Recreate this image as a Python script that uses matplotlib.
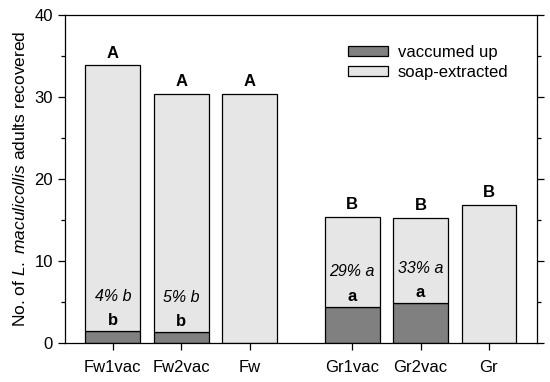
import matplotlib
matplotlib.use("Agg")
import matplotlib.pyplot as plt
from matplotlib.ticker import MultipleLocator

plt.rcParams["font.family"] = "Liberation Sans"
plt.rcParams["mathtext.fontset"] = "custom"
plt.rcParams["mathtext.rm"] = "Liberation Sans"
plt.rcParams["mathtext.it"] = "Liberation Sans:italic"

# data
groups = ["Fw1vac", "Fw2vac", "Fw", "Gr1vac", "Gr2vac", "Gr"]
positions = [0, 1, 2, 3.5, 4.5, 5.5]
vacuumed = [1.45, 1.35, 0, 4.4, 4.85, 0]
total = [33.8, 30.3, 30.3, 15.4, 15.2, 16.8]
soap = [t - v for t, v in zip(total, vacuumed)]
top_letters = ["A", "A", "A", "B", "B", "B"]
vac_letters = ["b", "b", "", "a", "a", ""]
pct_labels = ["4% b", "5% b", "", "29% a", "33% a", ""]

fig = plt.figure(figsize=(5.5, 3.82), dpi=100)
ax = fig.add_axes([0.118, 0.102, 0.858, 0.86])

ax.bar(positions, vacuumed, width=0.8, color="#808080", edgecolor="black",
       linewidth=0.9, label="vaccumed up")
ax.bar(positions, soap, bottom=vacuumed, width=0.8, color="#e6e6e6",
       edgecolor="black", linewidth=0.9, label="soap-extracted")

for x, t, lab in zip(positions, total, top_letters):
    ax.text(x, t + 1.5, lab, ha="center", va="center", fontsize=12, fontweight="bold")

for x, v, lab, pct in zip(positions, vacuumed, vac_letters, pct_labels):
    if lab:
        ax.text(x, v + 1.25, lab, ha="center", va="center", fontsize=12, fontweight="bold")
        ax.text(x, v + 4.25, pct, ha="center", va="center", fontsize=11.5, style="italic")

ax.set_xlim(-0.7, 6.2)
ax.set_ylim(0, 40)
ax.set_xticks(positions)
ax.set_xticklabels(groups, fontsize=12)
ax.yaxis.set_major_locator(MultipleLocator(10))
ax.yaxis.set_minor_locator(MultipleLocator(5))
ax.tick_params(axis="y", which="both", left=True, right=True, labelsize=12, width=0.9)
ax.tick_params(axis="y", which="major", length=5)
ax.tick_params(axis="y", which="minor", length=3)
ax.tick_params(axis="x", length=5, width=0.9, pad=7)
for s in ax.spines.values():
    s.set_linewidth(0.9)

ax.set_ylabel(r"No. of $\mathit{L.\ maculicollis}$ adults recovered", fontsize=12.5, labelpad=5)

ax.legend(loc="upper left", bbox_to_anchor=(0.6, 0.908), frameon=False, fontsize=12,
          handlelength=2.4, handleheight=0.5, handletextpad=0.6, labelspacing=0.3,
          borderpad=0, borderaxespad=0)

fig.savefig("out.png", dpi=100)
